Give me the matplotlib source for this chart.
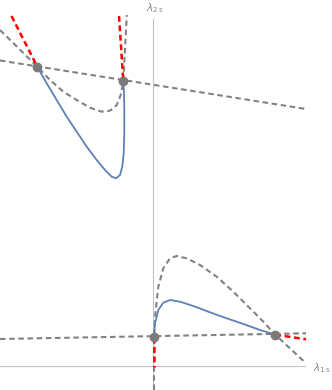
import numpy as np
import matplotlib
matplotlib.use("Agg")
import matplotlib.pyplot as plt

# upper branch (lambda_2s side)
blue_up_x = [-2.314, -2.126, -1.926, -1.726, -1.526, -1.326, -1.126, -0.96, -0.826,
             -0.74, -0.66, -0.614, -0.586, -0.574, -0.574, -0.58, -0.594]
blue_up_y = [5.986, 5.654, 5.32, 4.986, 4.686, 4.386, 4.12, 3.92, 3.786,
             3.754, 3.82, 3.986, 4.254, 4.654, 5.12, 5.454, 5.70]

grey_up_x = [-3.06, -2.314, -2.06, -1.794, -1.526, -1.26, -1.026, -0.86, -0.726,
             -0.646, -0.606, -0.594, -0.56, -0.52]
grey_up_y = [6.72, 5.986, 5.72, 5.486, 5.32, 5.166, 5.086, 5.106, 5.22,
             5.42, 5.62, 5.70, 6.32, 7.10]

line_up_x = [-3.06, 3.06]
line_up_y = [6.11, 5.14]

red_a_x = [-2.83, -2.314]
red_a_y = [7.0, 5.986]
red_b_x = [-0.68, -0.594]
red_b_y = [7.0, 5.70]

# lower branch (lambda_1s side)
blue_lo_x = [0.02, 0.04, 0.106, 0.206, 0.34, 0.54, 0.806, 1.14, 1.474, 1.806, 2.14, 2.446]
blue_lo_y = [0.574, 0.854, 1.12, 1.266, 1.32, 1.286, 1.20, 1.074, 0.954, 0.84, 0.72, 0.626]

grey_lo_x = [0.02, 0.02, 0.04, 0.106, 0.206, 0.34, 0.474, 0.674, 0.94, 1.274,
             1.606, 1.94, 2.206, 2.446, 3.06]
grey_lo_y = [-0.48, 0.574, 0.986, 1.586, 1.954, 2.154, 2.20, 2.154, 2.02, 1.786,
             1.486, 1.154, 0.886, 0.626, 0.054]

line_lo_x = [-3.06, 3.06]
line_lo_y = [0.54, 0.654]

red_c_x = [0.02, 0.02]
red_c_y = [0.574, -0.02]
red_d_x = [2.446, 3.06]
red_d_y = [0.626, 0.535]

pts_x = [-2.314, -0.594, 0.02, 2.446]
pts_y = [5.986, 5.70, 0.574, 0.626]

plt.rcParams['lines.scale_dashes'] = False

fig = plt.figure(figsize=(3.32, 3.90), dpi=100)
ax = fig.add_axes([0, 0, 306 / 332, 375 / 390])
ax.set_xlim(-3.06, 3.06)
ax.set_ylim(-0.48, 7.02)
ax.axis('off')

axis_col = '#c4c4c4'
ax.axhline(0, color=axis_col, lw=0.8, zorder=0)
ax.axvline(0.006, ymin=0, ymax=(6.95 + 0.48) / 7.5, color=axis_col, lw=0.8, zorder=0)

grey = '#828282'
dash_g = (4.0, 2.6)
dash_r = (4.2, 2.6)
blue = '#5e81b5'

for xs, ys in [(grey_up_x, grey_up_y), (line_up_x, line_up_y),
               (grey_lo_x, grey_lo_y), (line_lo_x, line_lo_y)]:
    ax.plot(xs, ys, color=grey, lw=1.5, dashes=dash_g, zorder=2)

ax.plot(blue_up_x, blue_up_y, color=blue, lw=1.3, zorder=3)
ax.plot(blue_lo_x, blue_lo_y, color=blue, lw=1.3, zorder=3)

for xs, ys in [(red_a_x, red_a_y), (red_b_x, red_b_y), (red_c_x, red_c_y), (red_d_x, red_d_y)]:
    ax.plot(xs, ys, color='#ff0000', lw=1.8, dashes=dash_r, zorder=4)

ax.plot(pts_x, pts_y, 'o', color='#7a7a7a', ms=6, zorder=5)

ax.text(3.2, -0.04, r'$\lambda_{1\,\mathrm{s}}$', color='#888888', fontsize=7.5,
        ha='left', va='center', clip_on=False)
ax.text(0.04, 7.16, r'$\lambda_{2\,\mathrm{s}}$', color='#888888', fontsize=7.5,
        ha='center', va='center', clip_on=False)

fig.savefig('out.png', dpi=100)
